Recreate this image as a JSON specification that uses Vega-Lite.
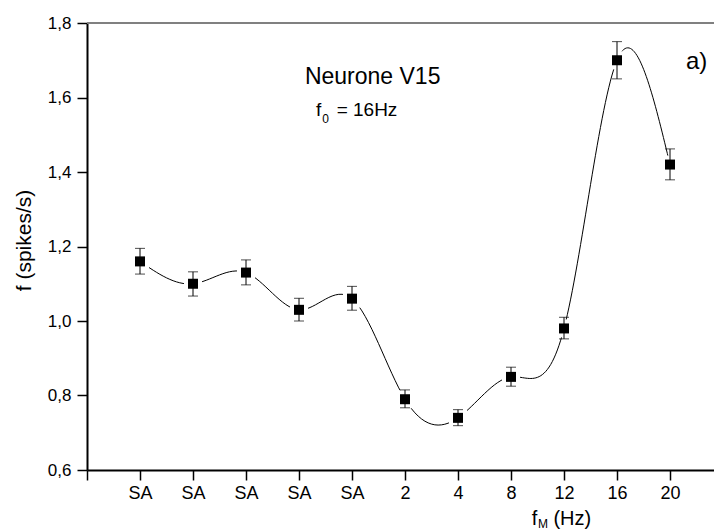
{
  "$schema": "https://vega.github.io/schema/vega-lite/v6.json",
  "width": 627,
  "height": 447,
  "autosize": {"type": "none"},
  "padding": {"left": 87, "top": 23, "right": 0, "bottom": 62},
  "background": "white",
  "config": {
    "view": {"stroke": null},
    "font": "Liberation Sans",
    "text": {"font": "Liberation Sans", "color": "black"}
  },
  "data": {
    "values": [
      {"x": 1, "label": "SA", "f": 1.16, "lo": 1.126, "hi": 1.195},
      {"x": 2, "label": "SA", "f": 1.10, "lo": 1.067, "hi": 1.132},
      {"x": 3, "label": "SA", "f": 1.13, "lo": 1.097, "hi": 1.164},
      {"x": 4, "label": "SA", "f": 1.03, "lo": 1.000, "hi": 1.061},
      {"x": 5, "label": "SA", "f": 1.06, "lo": 1.029, "hi": 1.093},
      {"x": 6, "label": "2", "f": 0.79, "lo": 0.767, "hi": 0.815},
      {"x": 7, "label": "4", "f": 0.74, "lo": 0.719, "hi": 0.762},
      {"x": 8, "label": "8", "f": 0.85, "lo": 0.825, "hi": 0.876},
      {"x": 9, "label": "12", "f": 0.98, "lo": 0.952, "hi": 1.010},
      {"x": 10, "label": "16", "f": 1.70, "lo": 1.650, "hi": 1.750},
      {"x": 11, "label": "20", "f": 1.42, "lo": 1.379, "hi": 1.462}
    ]
  },
  "layer": [
    {
      "mark": {"type": "rule", "color": "#808080", "strokeWidth": 1.5},
      "encoding": {"y": {"datum": 1.8, "type": "quantitative", "title": "f (spikes/s)"}}
    },
    {
      "mark": {"type": "line", "interpolate": "natural", "color": "black", "strokeWidth": 1},
      "encoding": {
        "x": {
          "field": "x", "type": "quantitative", "title": null,
          "scale": {"domain": [0, 11.83], "nice": false, "zero": false},
          "axis": {
            "orient": "bottom",
            "values": [0, 0.5, 1, 1.5, 2, 2.5, 3, 3.5, 4, 4.5, 5, 5.5, 6, 6.5, 7, 7.5, 8, 8.5, 9, 9.5, 10, 10.5, 11, 11.5],
            "labelExpr": "datum.value % 1 === 0 ? ['', 'SA', 'SA', 'SA', 'SA', 'SA', '2', '4', '8', '12', '16', '20'][datum.value] : ''",
            "tickSize": {"condition": {"test": "datum.value % 1 === 0", "value": 10}, "value": 5},
            "tickWidth": 1.5,
            "tickColor": "black",
            "domainColor": "black",
            "domainWidth": 2,
            "grid": false,
            "labelFont": "Liberation Sans",
            "labelFontSize": 18,
            "labelColor": "black",
            "labelPadding": 4,
            "labelOverlap": false,
            "labelFlush": false,
            "title": null
          }
        },
        "y": {
          "field": "f", "type": "quantitative", "title": "f (spikes/s)",
          "scale": {"domain": [0.6, 1.8], "nice": false, "zero": false},
          "axis": {
            "values": [0.6, 0.7, 0.8, 0.9, 1.0, 1.1, 1.2, 1.3, 1.4, 1.5, 1.6, 1.7, 1.8],
            "labelExpr": "round(datum.value * 10) % 2 === 0 ? replace(format(datum.value, '.1f'), '.', ',') : ''",
            "tickSize": {"condition": {"test": "round(datum.value * 10) % 2 === 0", "value": 10}, "value": 5},
            "tickWidth": 1.5,
            "tickColor": "black",
            "domainColor": "black",
            "domainWidth": 2,
            "grid": false,
            "labelFont": "Liberation Sans",
            "labelFontSize": 17,
            "labelColor": "black",
            "labelPadding": 6,
            "labelOverlap": false,
            "labelFlush": false,
            "title": "f (spikes/s)",
            "titleFont": "Liberation Sans",
            "titleFontSize": 21,
            "titleFontWeight": "normal",
            "titleColor": "black",
            "titleAngle": 270,
            "titleAlign": "center",
            "titleBaseline": "middle",
            "titleX": -63,
            "titleY": 217
          }
        }
      }
    },
    {
      "mark": {"type": "point", "shape": "square", "filled": true, "color": "white", "opacity": 1, "size": 324},
      "encoding": {
        "x": {"field": "x", "type": "quantitative", "title": null},
        "y": {"field": "f", "type": "quantitative", "title": "f (spikes/s)"}
      }
    },
    {
      "mark": {"type": "errorbar", "color": "black", "ticks": {"size": 10, "color": "black", "thickness": 1}, "rule": {"strokeWidth": 1, "color": "black"}},
      "encoding": {
        "x": {"field": "x", "type": "quantitative", "title": null},
        "y": {"field": "lo", "type": "quantitative", "title": "f (spikes/s)"},
        "y2": {"field": "hi"}
      }
    },
    {
      "mark": {"type": "point", "shape": "square", "filled": true, "color": "black", "opacity": 1, "size": 100},
      "encoding": {
        "x": {"field": "x", "type": "quantitative", "title": null},
        "y": {"field": "f", "type": "quantitative", "title": "f (spikes/s)"}
      }
    },
    {
      "data": {"values": [{}]},
      "mark": {"type": "text", "text": "Neurone V15", "fontSize": 23, "align": "center", "baseline": "alphabetic"},
      "encoding": {"x": {"datum": 5.39, "type": "quantitative"}, "y": {"datum": 1.636, "type": "quantitative"}}
    },
    {
      "data": {"values": [{}]},
      "mark": {"type": "text", "text": "f", "fontSize": 19, "align": "left", "baseline": "alphabetic"},
      "encoding": {"x": {"datum": 4.321, "type": "quantitative"}, "y": {"datum": 1.55, "type": "quantitative"}}
    },
    {
      "data": {"values": [{}]},
      "mark": {"type": "text", "text": "0", "fontSize": 12, "align": "left", "baseline": "alphabetic"},
      "encoding": {"x": {"datum": 4.44, "type": "quantitative"}, "y": {"datum": 1.531, "type": "quantitative"}}
    },
    {
      "data": {"values": [{}]},
      "mark": {"type": "text", "text": "= 16Hz", "fontSize": 19, "align": "left", "baseline": "alphabetic"},
      "encoding": {"x": {"datum": 4.71, "type": "quantitative"}, "y": {"datum": 1.55, "type": "quantitative"}}
    },
    {
      "data": {"values": [{}]},
      "mark": {"type": "text", "text": "a)", "fontSize": 24, "align": "left", "baseline": "alphabetic"},
      "encoding": {"x": {"datum": 11.3, "type": "quantitative"}, "y": {"datum": 1.676, "type": "quantitative"}}
    },
    {
      "data": {"values": [{}]},
      "mark": {"type": "text", "text": "f", "fontSize": 20, "align": "left", "baseline": "alphabetic"},
      "encoding": {"x": {"datum": 8.39, "type": "quantitative"}, "y": {"datum": 0.452, "type": "quantitative"}}
    },
    {
      "data": {"values": [{}]},
      "mark": {"type": "text", "text": "M", "fontSize": 12, "align": "left", "baseline": "alphabetic"},
      "encoding": {"x": {"datum": 8.51, "type": "quantitative"}, "y": {"datum": 0.443, "type": "quantitative"}}
    },
    {
      "data": {"values": [{}]},
      "mark": {"type": "text", "text": "(Hz)", "fontSize": 20, "align": "left", "baseline": "alphabetic"},
      "encoding": {"x": {"datum": 8.80, "type": "quantitative"}, "y": {"datum": 0.452, "type": "quantitative"}}
    }
  ]
}
